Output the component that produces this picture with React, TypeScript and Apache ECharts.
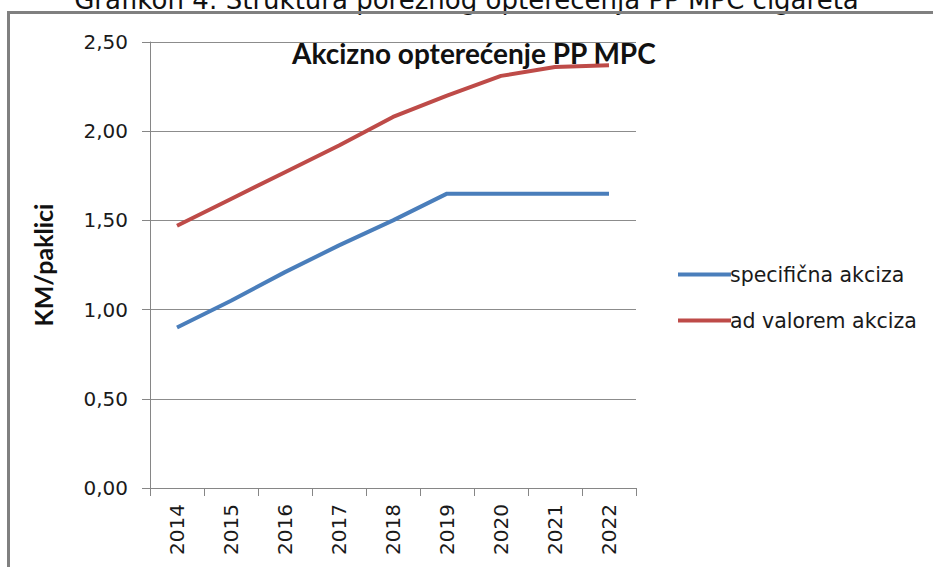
import React, { useEffect, useRef } from "react";
import * as echarts from "echarts";

const years = ["2014", "2015", "2016", "2017", "2018", "2019", "2020", "2021", "2022"];
const specificna = [0.9, 1.05, 1.21, 1.36, 1.5, 1.65, 1.65, 1.65, 1.65];
const adValorem = [1.47, 1.62, 1.77, 1.92, 2.08, 2.2, 2.31, 2.36, 2.37];
const seriesNames = ["specifična akciza", "ad valorem akciza"];
const yTicks = { min: 0, max: 2.5, interval: 0.5 };

export default function App() {
  const ref = useRef<HTMLDivElement>(null);
  useEffect(() => {
    if (!ref.current) return;
    const chart = echarts.init(ref.current, undefined, { renderer: "svg" });
    chart.setOption({
      animation: false,
      backgroundColor: "#ffffff",
      grid: { left: 150, right: 297, top: 42, bottom: 79, containLabel: false },
      legend: {
        orient: "vertical",
        left: 673,
        top: 259,
        itemWidth: 53,
        itemHeight: 4,
        itemGap: 25,
        icon: "rect",
        textStyle: { fontFamily: "DejaVu Sans", fontSize: 20.5, color: "#1a1a1a", lineHeight: 21, padding: [0, 0, 0, -6] },
        data: seriesNames,
      },
      graphic: [
        {
          type: "text",
          left: "center",
          top: -13,
          style: {
            text: "Grafikon 4: Struktura poreznog opterećenja PP MPC cigareta",
            fontFamily: "DejaVu Sans",
            fontSize: 26,
            fill: "#111",
          },
        },
        {
          type: "line",
          shape: { x1: 7, y1: 12.5, x2: 933, y2: 12.5 },
          style: { stroke: "#808080", lineWidth: 3 },
        },
        {
          type: "line",
          shape: { x1: 8.5, y1: 11, x2: 8.5, y2: 567 },
          style: { stroke: "#808080", lineWidth: 3 },
        },
        {
          type: "text",
          left: 292,
          top: 39,
          style: {
            text: "Akcizno opterećenje PP MPC",
            fontFamily: "Lato",
            fontWeight: "bold",
            fontSize: 28,
            fill: "#111",
          },
        },
      ],
      xAxis: {
        type: "category",
        data: years,
        boundaryGap: true,
        axisLine: { lineStyle: { color: "#868686", width: 1 } },
        axisTick: { show: true, alignWithLabel: false, length: 8, lineStyle: { color: "#868686" } },
        axisLabel: { rotate: 90, margin: 16, fontFamily: "DejaVu Sans", fontSize: 20, color: "#1a1a1a" },
      },
      yAxis: {
        type: "value",
        min: yTicks.min,
        max: yTicks.max,
        interval: yTicks.interval,
        name: "KM/paklici",
        nameLocation: "middle",
        nameGap: 95,
        nameRotate: 90,
        nameTextStyle: { fontFamily: "Lato", fontWeight: "bold", fontSize: 25, color: "#111" },
        axisLine: { show: true, lineStyle: { color: "#868686", width: 1 } },
        axisTick: { show: true, length: 8, lineStyle: { color: "#868686" } },
        splitLine: { show: true, lineStyle: { color: "#8c8c8c", width: 1 } },
        axisLabel: {
          margin: 22,
          fontFamily: "DejaVu Sans",
          fontSize: 20,
          color: "#1a1a1a",
          formatter: (v: number) => v.toFixed(2).replace(".", ","),
        },
      },
      series: [
        {
          name: seriesNames[0],
          type: "line",
          data: specificna,
          symbol: "none",
          lineStyle: { color: "#4a7ebb", width: 4 },
          itemStyle: { color: "#4a7ebb" },
        },
        {
          name: seriesNames[1],
          type: "line",
          data: adValorem,
          symbol: "none",
          lineStyle: { color: "#be4b48", width: 4 },
          itemStyle: { color: "#be4b48" },
        },
      ],
    });
    return () => chart.dispose();
  }, []);
  return (
    <div
      ref={ref}
      style={{ position: "fixed", left: 0, top: 0, width: 933, height: 567, background: "#fff" }}
    />
  );
}
